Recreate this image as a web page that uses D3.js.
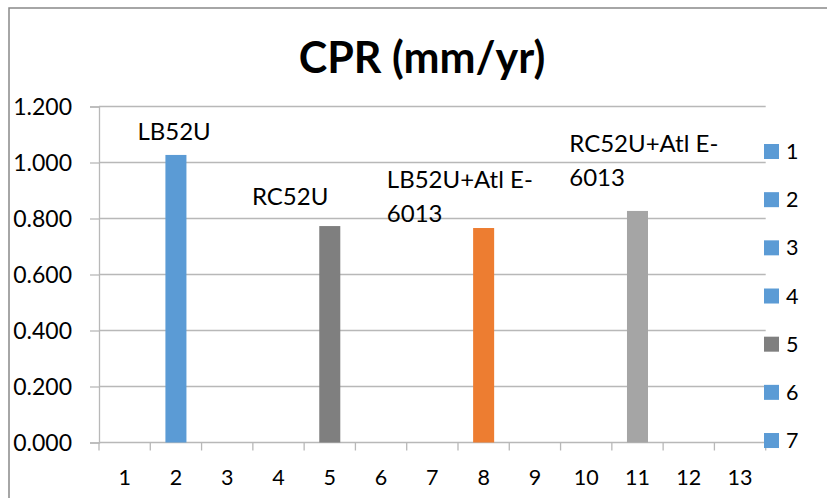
<!DOCTYPE html>
<html>
<head>
<meta charset="utf-8">
<script src="https://cdn.jsdelivr.net/npm/d3@7"></script>
<style>
  html, body { margin: 0; padding: 0; background: #fff; }
  svg { display: block; font-family: Lato, "Open Sans", sans-serif; }
</style>
</head>
<body>
<svg id="chart" width="827" height="498"></svg>
<script>
// ---- data ----
const chartTitle = "CPR (mm/yr)";
const categories = ["1","2","3","4","5","6","7","8","9","10","11","12","13"];
const cprValues = [null, 1.027, null, null, 0.773, null, null, 0.766, null, null, 0.827, null, null];
const barColors = [null, "#5B9BD5", null, null, "#7F7F7F", null, null, "#ED7D31", null, null, "#A5A5A5", null, null];
const barLabels = [null, ["LB52U"], null, null, ["RC52U"], null, null, ["LB52U+Atl E-", "6013"], null, null, ["RC52U+Atl E-", "6013"], null, null];
const yTicks = [0, 0.2, 0.4, 0.6, 0.8, 1.0, 1.2];
const legendLabels = ["1","2","3","4","5","6","7"];
const legendColors = ["#5B9BD5","#5B9BD5","#5B9BD5","#5B9BD5","#7F7F7F","#5B9BD5","#5B9BD5"];

// ---- layout ----
const plot = { left: 99, right: 765.7, top: 106.5, bottom: 442.5 };
// label offsets relative to bar centre (dx, left edge) and bar top (dy, first baseline)
const labelOffsets = [null, [-38.5, -15], null, null, [-77.8, -21], null, null, [-96.8, -40], null, null, [-68.2, -59], null, null];
const labelLineHeight = 34;
const gridColor = "#B8B8B8";

const svg = d3.select("#chart");

// chart border
svg.append("rect")
  .attr("x", 9).attr("y", 8).attr("width", 900).attr("height", 600)
  .attr("fill", "none").attr("stroke", "#898989").attr("stroke-width", 1.5);

const x = d3.scaleBand().domain(categories).range([plot.left, plot.right])
  .paddingInner(0.59).paddingOuter(0.295);
const y = d3.scaleLinear().domain([0, 1.2]).range([plot.bottom, plot.top]);

// gridlines
svg.append("g").selectAll("line").data(yTicks.filter(d => d > 0)).join("line")
  .attr("x1", plot.left).attr("x2", plot.right)
  .attr("y1", d => y(d)).attr("y2", d => y(d))
  .attr("stroke", gridColor).attr("stroke-width", 1.3);

// y axis
const yAxis = svg.append("g").attr("transform", `translate(${plot.left},0)`)
  .call(d3.axisLeft(y).tickValues(yTicks).tickFormat(d3.format(".3f")).tickSize(9).tickPadding(18));
yAxis.select(".domain").attr("stroke", gridColor).attr("stroke-width", 1.3);
yAxis.selectAll(".tick line").attr("stroke", gridColor).attr("stroke-width", 1.3);
yAxis.selectAll(".tick text").attr("font-size", 23).attr("fill", "#000")
  .attr("font-family", "Lato, sans-serif").attr("dy", "0.35em");

// x axis (ticks at band boundaries)
const xAxisG = svg.append("g");
const step = x.step();
const boundaries = d3.range(categories.length + 1).map(i => plot.left + i * step);
xAxisG.append("line").attr("x1", plot.left).attr("x2", plot.right)
  .attr("y1", plot.bottom).attr("y2", plot.bottom)
  .attr("stroke", gridColor).attr("stroke-width", 1.3);
xAxisG.selectAll("line.tk").data(boundaries).join("line").attr("class", "tk")
  .attr("x1", d => d).attr("x2", d => d)
  .attr("y1", plot.bottom).attr("y2", plot.bottom + 8)
  .attr("stroke", gridColor).attr("stroke-width", 1.3);
xAxisG.selectAll("text").data(categories).join("text")
  .attr("x", d => x(d) + x.bandwidth() / 2).attr("y", 485)
  .attr("text-anchor", "middle").attr("font-size", 21.5).attr("fill", "#000")
  .text(d => d);

// bars
const barData = categories.map((c, i) => ({ c, v: cprValues[i], color: barColors[i], label: barLabels[i], off: labelOffsets[i] }))
  .filter(d => d.v != null);
svg.append("g").selectAll("rect").data(barData).join("rect")
  .attr("x", d => x(d.c)).attr("width", x.bandwidth())
  .attr("y", d => y(d.v)).attr("height", d => y(0) - y(d.v))
  .attr("fill", d => d.color);

// data labels
const lbl = svg.append("g").selectAll("text").data(barData).join("text")
  .attr("font-size", 24).attr("fill", "#000")
  .attr("x", d => x(d.c) + x.bandwidth() / 2 + d.off[0])
  .attr("y", d => y(d.v) + d.off[1]);
lbl.each(function(d) {
  const t = d3.select(this);
  const x0 = x(d.c) + x.bandwidth() / 2 + d.off[0];
  d.label.forEach((line, i) => {
    t.append("tspan").attr("x", x0).attr("dy", i === 0 ? 0 : labelLineHeight).text(line);
  });
});

// title
svg.append("text").attr("x", 422).attr("y", 73)
  .attr("text-anchor", "middle").attr("font-size", 43).attr("font-weight", "bold")
  .attr("fill", "#000").text(chartTitle);

// legend
const legend = svg.append("g").selectAll("g").data(legendLabels).join("g")
  .attr("transform", (d, i) => `translate(764, ${144 + i * 48.17})`);
legend.append("rect").attr("width", 15).attr("height", 15)
  .attr("fill", (d, i) => legendColors[i]);
legend.append("text").attr("x", 22).attr("y", 15)
  .attr("font-size", 21.5).attr("fill", "#000").text(d => d);
</script>
</body>
</html>
